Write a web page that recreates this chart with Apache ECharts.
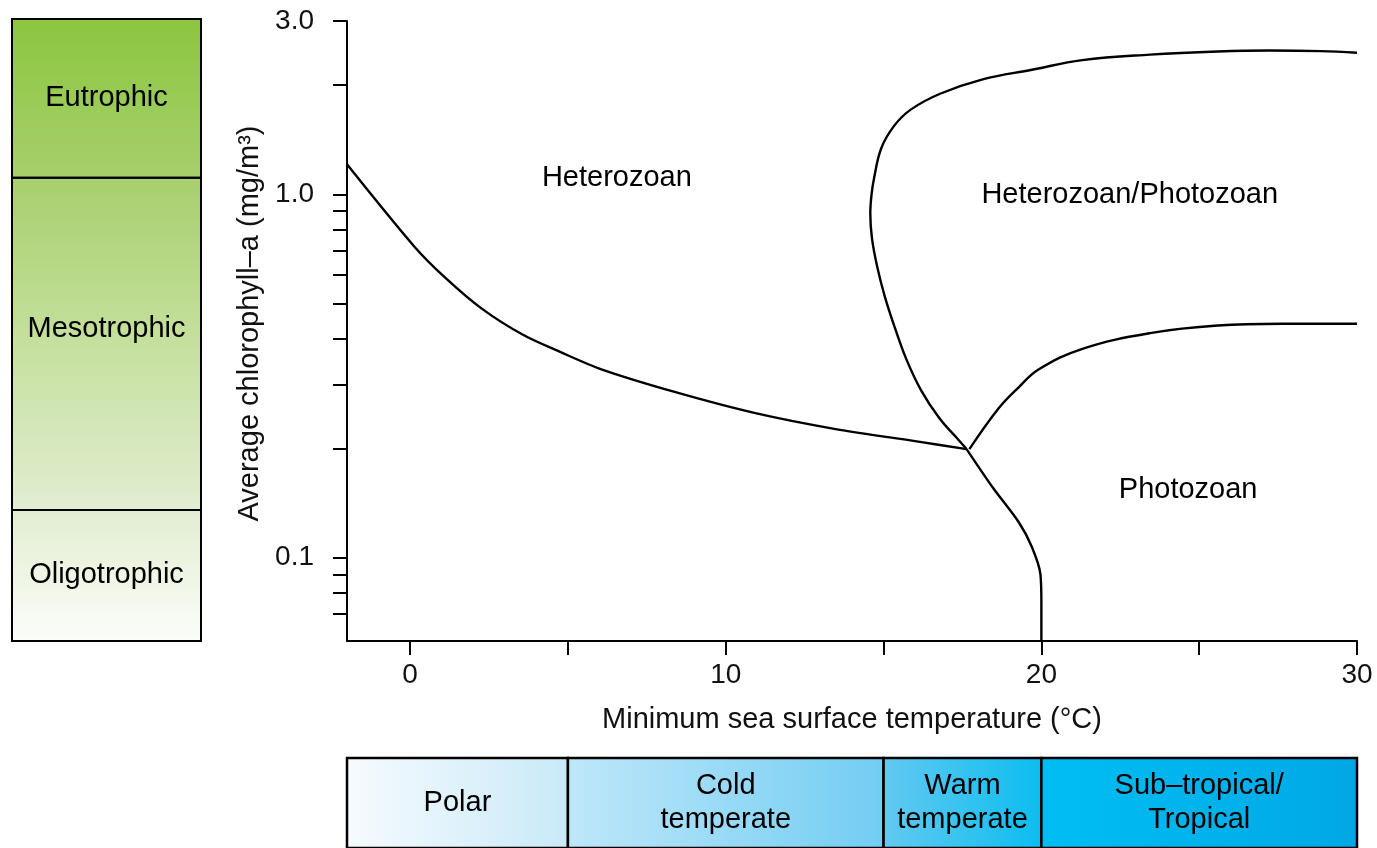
<!DOCTYPE html>
<html>
<head>
<meta charset="utf-8">
<script src="https://cdn.jsdelivr.net/npm/echarts@6/dist/echarts.min.js"></script>
<style>
html,body{margin:0;padding:0;background:#fff;}
#main{width:1377px;height:848px;}
</style>
</head>
<body>
<div id="main"></div>
<script>
// ---- Data ----
const xTickValues = [0, 5, 10, 15, 20, 25, 30];
const xLabelValues = [0, 10, 20, 30];
const yTickValues = [0.07, 0.08, 0.09, 0.1, 0.2, 0.3, 0.4, 0.5, 0.6, 0.7, 0.8, 0.9, 1, 2, 3];
const yLabelValues = [0.1, 1, 3];

// Heterozoan lower boundary (from the y axis to the junction)
const heteroX = [-2, 0.13, 1.11, 2.28, 3.59, 4.77, 6.06, 8.38, 10.94, 13.48, 16.05, 17.63];
const heteroY = [1.21, 0.719, 0.590, 0.484, 0.410, 0.368, 0.330, 0.286, 0.250, 0.226, 0.209, 0.199];

// Photozoan boundary (junction down to 20 °C)
const photoX = [17.63, 18.46, 19.29, 19.70, 19.97, 20, 20];
const photoY = [0.199, 0.156, 0.125, 0.107, 0.090, 0.075, 0.059];

// Heterozoan/Photozoan upper loop
const loopX = [17.63, 17.35, 16.77, 16.19, 15.72, 15.36, 15.04, 14.79, 14.63, 14.58, 14.62, 14.70, 14.93, 15.34, 15.86, 16.79, 18.14, 19.70, 21.30, 23.44, 25.59, 27.22, 28.85, 30];
const loopY = [0.199, 0.2122, 0.242, 0.2888, 0.352, 0.429, 0.523, 0.637, 0.760, 0.886, 1.0, 1.11, 1.342, 1.546, 1.711, 1.892, 2.073, 2.203, 2.341, 2.424, 2.473, 2.488, 2.479, 2.453];

// Heterozoan/Photozoan lower boundary
const lowerX = [17.72, 18.66, 19.29, 19.91, 21.30, 23.44, 25.59, 27.76, 30];
const lowerY = [0.199, 0.2586, 0.295, 0.3296, 0.3759, 0.415, 0.4355, 0.4404, 0.4406];

// Region labels
const regionNames = ['Heterozoan', 'Heterozoan/Photozoan', 'Photozoan'];
const regionX = [6.55, 22.8, 24.65];
const regionY = [1.11, 0.995, 0.154];

// Trophic classes (chlorophyll-a bounds)
const trophicNames = ['Oligotrophic', 'Mesotrophic', 'Eutrophic'];
const trophicBounds = [0.059, 0.135, 1.1, 3];

// Climate zones (minimum SST bounds)
const climateNames = ['Polar', 'Cold\ntemperate', 'Warm\ntemperate', 'Sub\u2013tropical/\nTropical'];
const climateBounds = [-2, 5, 15, 20, 30];

// ---- Chart ----
const FONT = '"Liberation Sans", Arial, Helvetica, sans-serif';
const xMin = -2, xMax = 30, yMin = 0.059, yMax = 3;
const zip = (a, b) => a.map((v, i) => [v, b[i]]);
const nz = v => (v === 0 ? 1e-7 : v);

const climateColors = [
  ['#f6fbfe', '#c9e9f8'],
  ['#bfe7f9', '#72cdf3'],
  ['#63c9f1', '#0bbdef'],
  ['#00bef2', '#00a8e5']
];
const trophicGradient = new echarts.graphic.LinearGradient(0, 0, 0, 1, [
  { offset: 0, color: '#8cc63f' },
  { offset: 0.27, color: '#a8d06f' },
  { offset: 0.5, color: '#c3df9a' },
  { offset: 0.78, color: '#e1edd0' },
  { offset: 1, color: '#fbfdf8' }
]);

const lineSeries = (x, y, smooth) => ({
  type: 'line',
  xAxisIndex: 0, yAxisIndex: 0,
  data: zip(x, y),
  showSymbol: false,
  smooth: smooth,
  lineStyle: { color: '#000', width: 2.4 },
  silent: true
});

const option = {
  animation: false,
  backgroundColor: '#fff',
  textStyle: { fontFamily: FONT },
  grid: [
    { left: 347, right: 20, top: 21, height: 620 },
    { left: 12, width: 189, top: 19, height: 622 },
    { left: 347, right: 20, top: 758, height: 92 }
  ],
  xAxis: [
    {
      gridIndex: 0, type: 'value', min: xMin, max: xMax,
      axisLine: { show: true, onZero: false, lineStyle: { color: '#000', width: 2 } },
      axisTick: { show: true, length: 14, lineStyle: { color: '#000', width: 2 }, customValues: xTickValues.map(nz) },
      axisLabel: {
        color: '#111', fontSize: 28, fontFamily: FONT, margin: 20,
        customValues: xLabelValues.map(nz), formatter: v => String(Math.round(v))
      },
      splitLine: { show: false },
      name: 'Minimum sea surface temperature (\u00b0C)',
      nameLocation: 'middle', nameGap: 64,
      nameTextStyle: { color: '#111', fontSize: 29, fontFamily: FONT }
    },
    { gridIndex: 1, type: 'value', min: 0, max: 1, show: false },
    { gridIndex: 2, type: 'value', min: xMin, max: xMax, show: false }
  ],
  yAxis: [
    {
      gridIndex: 0, type: 'log', min: yMin, max: yMax, logBase: 10,
      axisLine: { show: true, onZero: false, lineStyle: { color: '#000', width: 2 } },
      axisTick: { show: true, length: 14, lineStyle: { color: '#000', width: 2 }, customValues: yTickValues },
      axisLabel: {
        color: '#111', fontSize: 28, fontFamily: FONT, margin: 33, customValues: yLabelValues,
        formatter: v => (v >= 1 ? Number(v).toFixed(1) : String(v))
      },
      splitLine: { show: false },
      name: 'Average chlorophyll\u2013a (mg/m\u00b3)',
      nameLocation: 'middle', nameGap: 83,
      nameTextStyle: { color: '#111', fontSize: 29, fontFamily: FONT, padding: [0, 0, 0, 15] }
    },
    { gridIndex: 1, type: 'log', min: yMin, max: yMax, show: false },
    { gridIndex: 2, type: 'value', min: 0, max: 1, show: false }
  ],
  series: [
    lineSeries(heteroX, heteroY, 0.3),
    lineSeries(photoX, photoY, 0.3),
    lineSeries(loopX, loopY, 0.4),
    lineSeries(lowerX, lowerY, 0.4),
    {
      type: 'scatter', xAxisIndex: 0, yAxisIndex: 0,
      symbolSize: 0, silent: true,
      itemStyle: { opacity: 1 },
      data: regionNames.map((n, i) => ({ name: n, value: [regionX[i], regionY[i]] })),
      label: {
        show: true, position: 'inside', formatter: p => p.name,
        color: '#000', opacity: 1, fontSize: 29, fontFamily: FONT
      }
    },
    {
      type: 'line', xAxisIndex: 1, yAxisIndex: 1, data: [], silent: true,
      markArea: {
        silent: true,
        data: [
          [{ xAxis: 0, yAxis: trophicBounds[0], itemStyle: { color: trophicGradient, borderWidth: 0 } },
           { xAxis: 1, yAxis: trophicBounds[3] }]
        ].concat(trophicNames.map((n, i) => [
          { name: n, xAxis: 0, yAxis: trophicBounds[i],
            itemStyle: { color: 'rgba(0,0,0,0)', borderColor: '#000', borderWidth: 2 },
            label: { offset: [0, n === 'Mesotrophic' ? -15 : 0] } },
          { xAxis: 1, yAxis: trophicBounds[i + 1] }
        ])),
        label: { show: true, position: 'inside', color: '#000', fontSize: 29, fontFamily: FONT }
      }
    },
    {
      type: 'line', xAxisIndex: 2, yAxisIndex: 2, data: [], silent: true,
      markArea: {
        silent: true,
        data: climateNames.map((n, i) => [
          { name: n, xAxis: climateBounds[i], yAxis: 0,
            itemStyle: {
              color: new echarts.graphic.LinearGradient(0, 0, 1, 0, [
                { offset: 0, color: climateColors[i][0] },
                { offset: 1, color: climateColors[i][1] }
              ]),
              borderColor: '#000', borderWidth: 2.5
            } },
          { xAxis: climateBounds[i + 1], yAxis: 1 }
        ]),
        label: { show: true, position: 'inside', color: '#000', fontSize: 29, fontFamily: FONT, lineHeight: 34, align: 'center' }
      }
    }
  ]
};

const chart = echarts.init(document.getElementById('main'), null, { renderer: 'canvas' });
chart.setOption(option);
</script>
</body>
</html>
